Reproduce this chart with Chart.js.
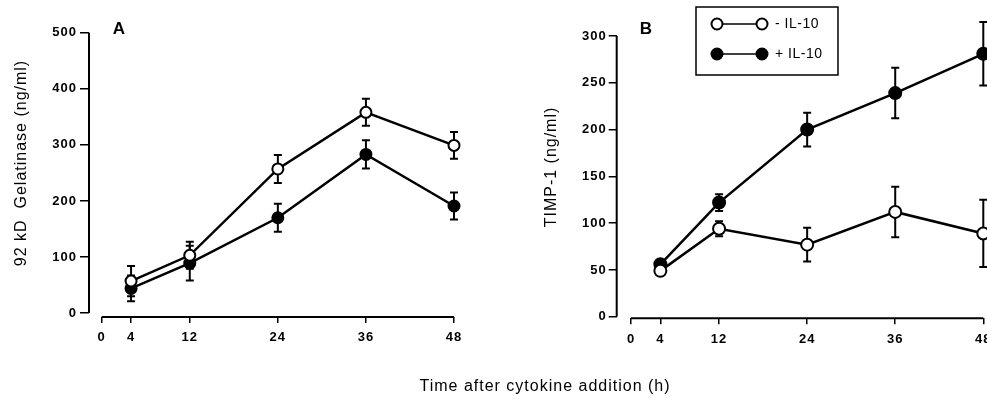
<!DOCTYPE html>
<html>
<head>
<meta charset="utf-8">
<script src="https://cdn.jsdelivr.net/npm/chart.js@4.4.1/dist/chart.umd.min.js"></script>
<style>
  html, body { margin: 0; padding: 0; width: 987px; height: 402px; overflow: hidden; background: #fff; }
  .panel { position: absolute; top: 0; width: 500px; height: 402px; }
  #panelA { left: 0; }
  #panelB { left: 500px; }
  #xTitle {
    position: absolute; left: 545px; top: 377px; transform: translateX(-50%);
    font: 16px "Liberation Sans", Arial, Helvetica, sans-serif; letter-spacing: 1px;
    white-space: nowrap; color: #000;
  }
</style>
</head>
<body>
<div class="panel" id="panelA"><canvas id="chartA" width="500" height="402"></canvas></div>
<div class="panel" id="panelB"><canvas id="chartB" width="500" height="402"></canvas></div>
<div id="xTitle">Time after cytokine addition (h)</div>
<script>
// time points (h) and x tick labels
var hours = [4, 12, 24, 36, 48];
var hourTicks = [0, 4, 12, 24, 36, 48];

// panel A: 92 kD gelatinase (ng/ml), mean and error
var gelatinaseMinus = [57, 103, 257, 358, 299];
var gelatinaseMinusErr = [27, 24, 25, 24, 24];
var gelatinasePlus = [44, 89, 170, 283, 191];
var gelatinasePlusErr = [23, 31, 25, 25, 24];
var gelatinaseTicks = [0, 100, 200, 300, 400, 500];

// panel B: TIMP-1 (ng/ml), mean and error
var timpMinus = [49, 94, 77, 112, 89];
var timpMinusErr = [3, 8, 18, 27, 36];
var timpPlus = [56, 122, 200, 239, 281];
var timpPlusErr = [3, 9, 18, 27, 34];
var timpTicks = [0, 50, 100, 150, 200, 250, 300];

var seriesLabels = ['- IL-10', '+ IL-10'];

var FONT = '"Liberation Sans", Arial, Helvetica, sans-serif';

function toPoints(values) {
  return values.map(function(v, i) { return { x: hours[i], y: v }; });
}

function makeDataset(label, values, errors, open, radius) {
  return {
    label: label,
    data: toPoints(values),
    errors: errors,
    borderColor: '#000',
    borderWidth: 2.5,
    pointRadius: radius,
    pointHoverRadius: radius,
    pointBorderWidth: 2,
    pointBorderColor: '#000',
    pointBackgroundColor: open ? '#fff' : '#000',
    tension: 0,
    clip: false
  };
}

// Draws error bars, detached axis lines, panel letter and y title
var decorPlugin = {
  id: 'decor',
  beforeDraw: function(chart) {
    chart.ctx.letterSpacing = '1px';
  },
  beforeDatasetsDraw: function(chart) {
    var ctx = chart.ctx, xs = chart.scales.x, ys = chart.scales.y;
    var area = chart.chartArea;
    var opts = chart.options.plugins.decor;
    ctx.save();
    ctx.strokeStyle = '#000';

    // axis lines
    ctx.lineWidth = 2;
    ctx.beginPath();
    ctx.moveTo(xs.getPixelForValue(hourTicks[0]), area.bottom);
    ctx.lineTo(xs.getPixelForValue(hourTicks[hourTicks.length - 1]), area.bottom);
    ctx.moveTo(area.left, ys.getPixelForValue(0));
    ctx.lineTo(area.left, ys.getPixelForValue(ys.max));
    ctx.stroke();

    // error bars
    ctx.lineWidth = 2;
    chart.data.datasets.forEach(function(ds) {
      ds.data.forEach(function(pt, i) {
        var err = ds.errors[i];
        var x = xs.getPixelForValue(pt.x);
        var yt = ys.getPixelForValue(pt.y + err);
        var yb = ys.getPixelForValue(pt.y - err);
        ctx.beginPath();
        ctx.moveTo(x, yt); ctx.lineTo(x, yb);
        ctx.moveTo(x - 4, yt); ctx.lineTo(x + 4, yt);
        ctx.moveTo(x - 4, yb); ctx.lineTo(x + 4, yb);
        ctx.stroke();
      });
    });

    // panel letter
    ctx.fillStyle = '#000';
    ctx.font = 'bold 17px ' + FONT;
    ctx.letterSpacing = '0px';
    ctx.textAlign = 'center';
    ctx.textBaseline = 'middle';
    ctx.fillText(opts.letter, opts.letterX, opts.letterY);

    // y title
    ctx.font = '16px ' + FONT;
    ctx.letterSpacing = '1px';
    ctx.translate(opts.titleX, opts.titleY);
    ctx.rotate(-Math.PI / 2);
    ctx.fillText(opts.title, 0, 0);
    ctx.restore();
  },
  afterDraw: function(chart) {
    var opts = chart.options.plugins.decor;
    if (!opts.legend) return;
    var ctx = chart.ctx, lg = opts.legend;
    ctx.save();
    ctx.strokeStyle = '#000';
    ctx.lineWidth = 1.5;
    ctx.strokeRect(lg.x, lg.y, lg.w, lg.h);
    chart.data.datasets.forEach(function(ds, i) {
      var y = lg.y + 17 + i * 30;
      var x1 = lg.x + 21, x2 = lg.x + 66;
      ctx.lineWidth = 1.5;
      ctx.beginPath();
      ctx.moveTo(x1, y); ctx.lineTo(x2, y);
      ctx.stroke();
      [x1, x2].forEach(function(x) {
        ctx.beginPath();
        ctx.arc(x, y, 5.5, 0, Math.PI * 2);
        ctx.fillStyle = ds.pointBackgroundColor;
        ctx.fill();
        ctx.lineWidth = 2;
        ctx.stroke();
      });
      ctx.fillStyle = '#000';
      ctx.font = '14px ' + FONT;
      ctx.letterSpacing = '0.5px';
      ctx.textAlign = 'left';
      ctx.textBaseline = 'middle';
      ctx.fillText(ds.label, lg.x + 79, y);
    });
    ctx.restore();
  }
};

function makeChart(canvasId, cfg) {
  var tickFont = { family: FONT, size: 13, weight: 'bold' };
  return new Chart(document.getElementById(canvasId), {
    type: 'line',
    data: {
      datasets: [
        makeDataset(seriesLabels[0], cfg.minus, cfg.minusErr, true, cfg.radius),
        makeDataset(seriesLabels[1], cfg.plus, cfg.plusErr, false, cfg.radius)
      ]
    },
    options: {
      responsive: false,
      animation: false,
      events: [],
      layout: { padding: { top: cfg.top, left: 0, right: cfg.right, bottom: 0 } },
      plugins: {
        legend: { display: false },
        tooltip: { enabled: false },
        decor: cfg.decor
      },
      scales: {
        x: {
          type: 'linear',
          min: cfg.xMin,
          max: 48,
          afterBuildTicks: function(s) { s.ticks = hourTicks.map(function(v) { return { value: v }; }); },
          afterFit: function(s) { s.height = cfg.xHeight; },
          grid: { drawOnChartArea: false, drawTicks: true, tickLength: 6, color: '#000', lineWidth: 1.5 },
          border: { display: false },
          ticks: { autoSkip: false, maxRotation: 0, padding: 7, color: '#000', font: tickFont }
        },
        y: {
          type: 'linear',
          min: cfg.yMin,
          max: cfg.yTicks[cfg.yTicks.length - 1],
          afterBuildTicks: function(s) { s.ticks = cfg.yTicks.map(function(v) { return { value: v }; }); },
          afterFit: function(s) { s.width = cfg.yWidth; },
          grid: { drawOnChartArea: false, drawTicks: true, tickLength: cfg.yTickLen, color: '#000', lineWidth: 1.5 },
          border: { display: false },
          ticks: { autoSkip: false, padding: cfg.yPad, color: '#000', font: tickFont }
        }
      }
    },
    plugins: [decorPlugin]
  });
}

makeChart('chartA', {
  minus: gelatinaseMinus, minusErr: gelatinaseMinusErr,
  plus: gelatinasePlus, plusErr: gelatinasePlusErr,
  yTicks: gelatinaseTicks, yMin: -7, xMin: -1.73,
  radius: 5.5, top: 32.7, right: 46, xHeight: 85, yWidth: 89, yTickLen: 9, yPad: 3,
  decor: { letter: 'A', letterX: 119, letterY: 29, title: '92 kD  Gelatinase (ng/ml)', titleX: 22, titleY: 163 }
});

makeChart('chartB', {
  minus: timpMinus, minusErr: timpMinusErr,
  plus: timpPlus, plusErr: timpPlusErr,
  yTicks: timpTicks, yMin: -1.7, xMin: -1.95,
  radius: 6, top: 36, right: 16.7, xHeight: 83.7, yWidth: 116.7, yTickLen: 8, yPad: 2,
  decor: {
    letter: 'B', letterX: 146, letterY: 29, title: 'TIMP-1 (ng/ml)', titleX: 52, titleY: 167,
    legend: { x: 196, y: 7, w: 142, h: 68 }
  }
});
</script>
</body>
</html>
